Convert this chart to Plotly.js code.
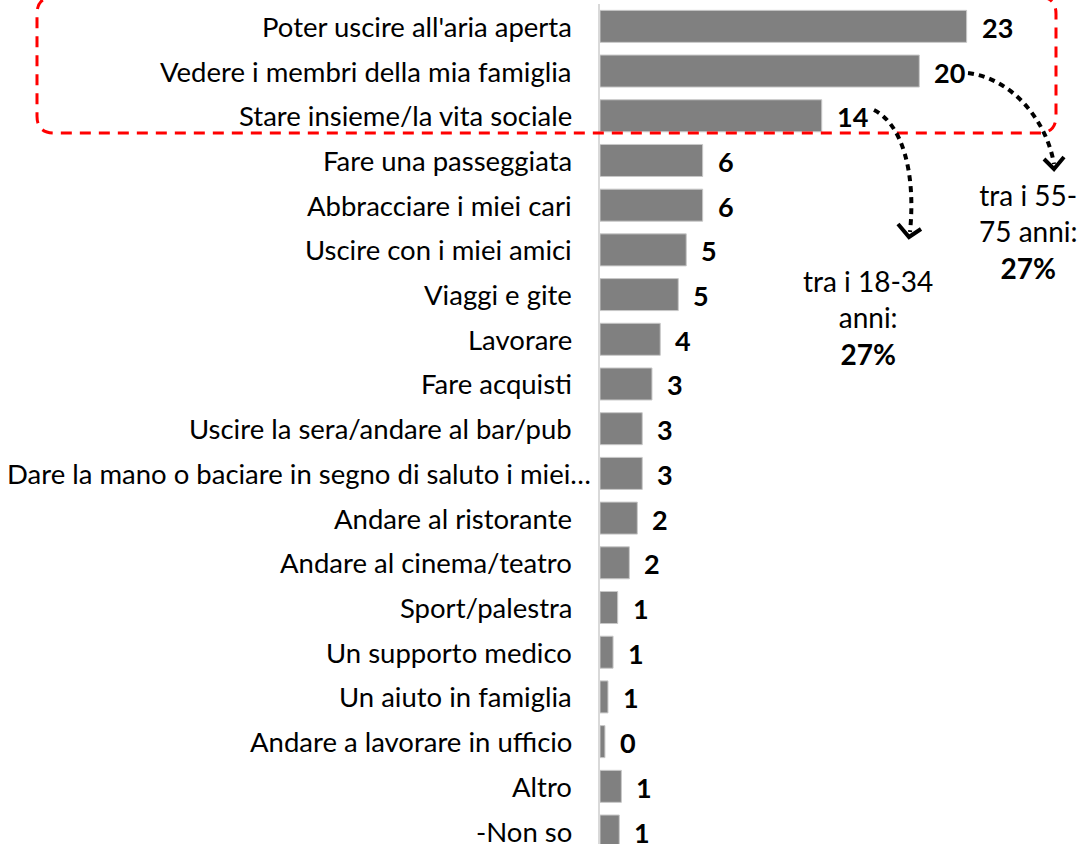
<!DOCTYPE html>
<html>
<head>
<meta charset="utf-8">
<script src="https://cdn.plot.ly/plotly-3.0.1.min.js"></script>
<style>html,body{margin:0;padding:0;overflow:hidden;background:#fff}</style>
</head>
<body>
<div id="chart" style="width:1087px;height:844px"></div>
<script>
const categories = [
  "Poter uscire all'aria aperta",
  "Vedere i membri della mia famiglia",
  "Stare insieme/la vita sociale",
  "Fare una passeggiata",
  "Abbracciare i miei cari",
  "Uscire con i miei amici",
  "Viaggi e gite",
  "Lavorare",
  "Fare acquisti",
  "Uscire la sera/andare al bar/pub",
  "Dare la mano o baciare in segno di saluto i miei…",
  "Andare al ristorante",
  "Andare al cinema/teatro",
  "Sport/palestra",
  "Un supporto medico",
  "Un aiuto in famiglia",
  "Andare a lavorare in ufficio",
  "Altro",
  "-Non so"
];
const values = [23, 20.03, 13.91, 6.44, 6.44, 5.41, 4.91, 3.78, 3.26, 2.65, 2.65, 2.34, 1.84, 1.11, 0.82, 0.5, 0.31, 1.34, 1.21];
const valueLabels = ["23", "20", "14", "6", "6", "5", "5", "4", "3", "3", "3", "2", "2", "1", "1", "1", "0", "1", "1"];
const notes = [
  {lines: ["tra i 18-34", "anni:"], pct: "27%"},
  {lines: ["tra i 55-", "75 anni:"], pct: "27%"}
];

const FONT = "Lato, 'Open Sans', sans-serif";
const L = 600, PW = 487, T = 4, PH = 840;
const X = px => (px - L) / PW;
const Y = py => 1 - (py - T) / PH;
const P = (px, py) => X(px).toFixed(5) + "," + Y(py).toFixed(5);

const trace = {
  type: "bar",
  orientation: "h",
  x: values,
  y: categories,
  marker: {color: "#808080", line: {color: "#c8c8c8", width: 1}},
  hoverinfo: "skip"
};

const annotations = [];
// category labels (truncated long label overhangs towards the axis, as in the original)
categories.forEach((c, i) => {
  annotations.push({
    x: 0, y: c, xref: "x", yref: "y",
    text: c, showarrow: false, xanchor: "right", yanchor: "middle",
    xshift: c.endsWith("…") ? -7 : -26, yshift: 0,
    font: {family: FONT, size: 27.5, color: "#000"}
  });
});
values.forEach((v, i) => {
  annotations.push({
    x: v, y: categories[i], xref: "x", yref: "y",
    text: "<b>" + valueLabels[i] + "</b>",
    showarrow: false, xanchor: "left", yanchor: "middle",
    xshift: 13, yshift: -1,
    font: {family: FONT, size: 27, color: "#000"}
  });
});

const notePos = [{x: 868, y: 317}, {x: 1028, y: 232}];
notes.forEach((n, i) => {
  annotations.push({
    xref: "paper", yref: "paper",
    x: X(notePos[i].x), y: Y(notePos[i].y),
    text: n.lines.join("<br>") + "<br><b>" + n.pct + "</b>",
    showarrow: false, xanchor: "center", yanchor: "middle", align: "center",
    font: {family: FONT, size: 28, color: "#000"}
  });
});

const l = 37, r = 1056, t = -3, b = 133, rr = 17;
const rectPath = "M" + P(l + rr, t) + " L" + P(r - rr, t) + " Q" + P(r, t) + " " + P(r, t + rr) +
  " L" + P(r, b - rr) + " Q" + P(r, b) + " " + P(r - rr, b) +
  " L" + P(l + rr, b) + " Q" + P(l, b) + " " + P(l, b - rr) +
  " L" + P(l, t + rr) + " Q" + P(l, t) + " " + P(l + rr, t) + " Z";

const arrowA = "M" + P(874, 110) + " C" + P(902, 124) + " " + P(916, 172) + " " + P(910, 232);
const headA = "M" + P(898, 224) + " L" + P(909, 237) + " L" + P(921, 229);
const arrowB = "M" + P(968, 73) + " C" + P(1010, 78) + " " + P(1046, 118) + " " + P(1054, 164);
const headB = "M" + P(1044, 159) + " L" + P(1054, 169) + " L" + P(1064, 157);

const shapes = [
  {type: "path", xref: "paper", yref: "paper", path: rectPath, layer: "above",
   line: {color: "#ff0000", width: 3, dash: "11px,8px"}},
  {type: "path", xref: "paper", yref: "paper", path: arrowA, layer: "above",
   line: {color: "#000", width: 4, dash: "6px,5px"}},
  {type: "path", xref: "paper", yref: "paper", path: headA, layer: "above",
   line: {color: "#000", width: 4}},
  {type: "path", xref: "paper", yref: "paper", path: arrowB, layer: "above",
   line: {color: "#000", width: 4, dash: "6px,5px"}},
  {type: "path", xref: "paper", yref: "paper", path: headB, layer: "above",
   line: {color: "#000", width: 4}}
];

const layout = {
  width: 1087, height: 844,
  margin: {l: L, r: 1087 - L - PW, t: T, b: 844 - T - PH, pad: 0},
  paper_bgcolor: "#fff", plot_bgcolor: "#fff",
  showlegend: false,
  bargap: 0.284,
  xaxis: {range: [0, 30.55], visible: false, fixedrange: true},
  yaxis: {
    type: "category", range: [18.29, -0.5], autorange: false,
    showline: true, linecolor: "#d9d9d9", linewidth: 2,
    showgrid: false, zeroline: false, ticks: "", showticklabels: false,
    fixedrange: true
  },
  annotations: annotations,
  shapes: shapes
};

Plotly.newPlot("chart", [trace], layout, {displayModeBar: false, staticPlot: true});
</script>
</body>
</html>
